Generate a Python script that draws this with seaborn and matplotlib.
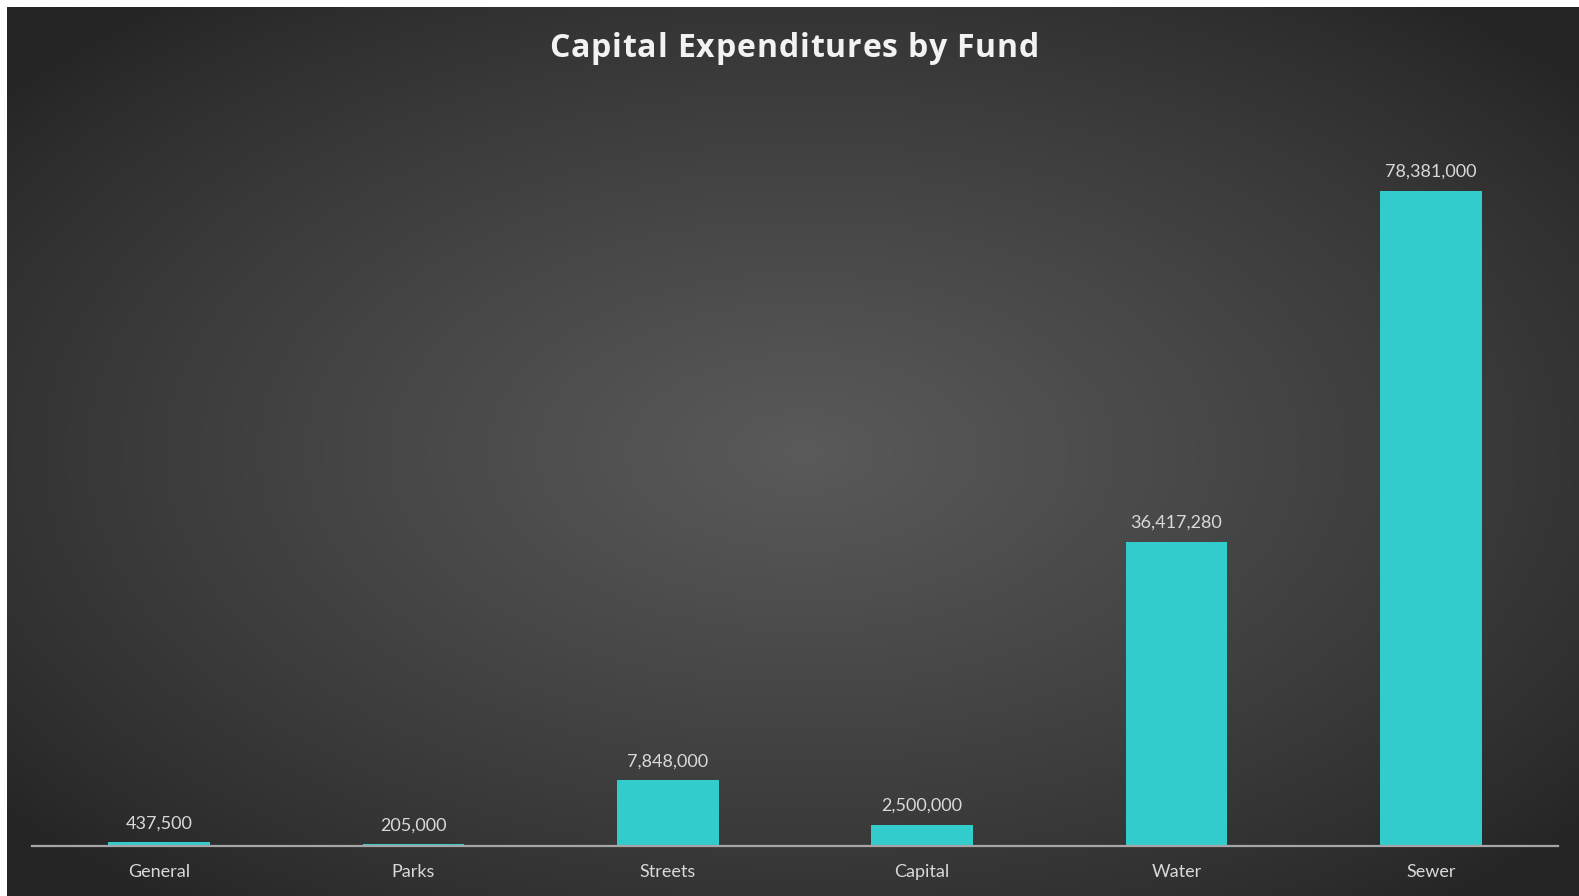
import numpy as np
import pandas as pd
import matplotlib
matplotlib.use("Agg")
import matplotlib.pyplot as plt
import seaborn as sns

funds = ["General", "Parks", "Streets", "Capital", "Water", "Sewer"]
expenditures = [437500, 205000, 7848000, 2500000, 36417280, 78381000]
title_text = "Capital Expenditures by Fund"

sns.set_theme(style="white")
plt.rcParams["font.family"] = ["Lato", "DejaVu Sans"]

W, H = 1579, 896
fig = plt.figure(figsize=(W / 100, H / 100), dpi=100, facecolor="white")

# dark radial backdrop (chart area starts a few pixels in from the top/left edge)
bx0, by0 = 7, 7
bg = fig.add_axes([bx0 / W, 0, (W - bx0) / W, (H - by0) / H])
bg.set_axis_off()
ny, nx = 400, 700
yy, xx = np.mgrid[0:ny, 0:nx]
cx, cy = nx * 0.505, ny * 0.50
r = np.sqrt(((xx - cx) / (nx * 0.5)) ** 2 + ((yy - cy) / (ny * 0.5)) ** 2)
r = np.clip(r / 1.3, 0, 1)
inner, outer = 0x5a / 255, 0x25 / 255
val = outer + (inner - outer) * (1 - r) ** 0.85
img = np.dstack([val, val, val])
bg.imshow(img, aspect="auto", interpolation="bilinear", extent=[0, 1, 0, 1])
bg.set_xlim(0, 1)
bg.set_ylim(0, 1)

ax = fig.add_axes([32 / W, (H - 846) / H, (1558 - 32) / W, (846 - 94) / H])
ax.patch.set_alpha(0)

df = pd.DataFrame({"Fund": funds, "Amount": expenditures})
sns.barplot(data=df, x="Fund", y="Amount", color="#33CCCC", saturation=1,
            width=0.4, ax=ax, edgecolor="none")

ax.set_xlim(-0.5, len(funds) - 0.5)
ax.set_ylim(0, 90_000_000)
ax.set_xlabel("")
ax.set_ylabel("")
ax.set_yticks([])
for side in ["top", "right", "left"]:
    ax.spines[side].set_visible(False)
ax.spines["bottom"].set_color("#a6a6a6")
ax.spines["bottom"].set_linewidth(1.6)
ax.spines["bottom"].set_zorder(5)
ax.tick_params(axis="x", length=0, pad=13, labelsize=13, labelcolor="#d9d9d9")

for c in ax.containers:
    ax.bar_label(c, labels=[f"{v:,.0f}" for v in expenditures], padding=8,
                 fontsize=13, color="#d9d9d9")

# title with slightly expanded letter spacing, laid out character by character
title_kw = dict(fontsize=23, fontweight="bold", color="#f2f2f2",
                family=["Open Sans", "DejaVu Sans"], va="baseline", ha="left")
spacing_px = 0.9
renderer = fig.canvas.get_renderer()


def prefix_width(s):
    if not s:
        return 0.0
    t = fig.text(0, 0, s.replace(" ", "\u00a0"), **title_kw)
    w = t.get_window_extent(renderer).width
    t.remove()
    return w


full_w = prefix_width(title_text) + spacing_px * (len(title_text) - 1)
x_start = 794 - full_w / 2
baseline_y = H - 57
for i, ch in enumerate(title_text):
    if ch == " ":
        continue
    x = x_start + prefix_width(title_text[:i]) + spacing_px * i
    fig.text(x / W, baseline_y / H, ch, **title_kw)

fig.savefig("out.png", dpi=100, facecolor="white")
